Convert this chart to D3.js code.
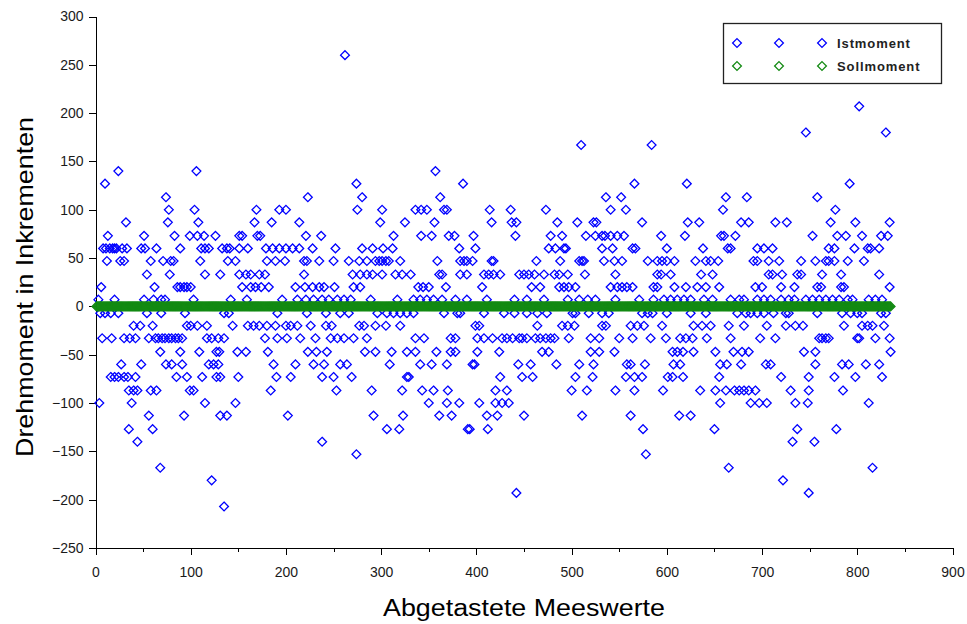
<!DOCTYPE html>
<html>
<head>
<meta charset="utf-8">
<script src="https://cdn.jsdelivr.net/npm/d3@7"></script>
<style>
  body { margin: 0; background: #fff; }
  svg { display: block; font-family: "Liberation Sans", Arial, sans-serif; }
  .axis path, .axis line { stroke: #000; shape-rendering: crispEdges; }
  .axis text { font-size: 14px; fill: #1a1a1a; }
</style>
</head>
<body>
<div class="cont"></div>
<script>

var w = 967,
h = 624;

// Istmoment: quantised torque levels and the sample numbers seen at each level
var istLevels = [260, 207, 180, 167, 140, 127, 113, 100, 87, 73, 60, 47, 33, 20, 7,
  -7, -20, -33, -47, -60, -73, -87, -100, -113, -127, -140, -153, -167, -180, -193, -207];

var istSamples = [
  [262],
  [802],
  [746, 830],
  [510, 584],
  [24, 106, 357],
  [10, 274, 386, 566, 621, 792],
  [74, 223, 280, 362, 536, 552, 662, 684, 758],
  [77, 104, 169, 193, 200, 275, 301, 336, 342, 348, 366, 369, 414, 436, 473, 541, 557, 659, 777],
  [32, 76, 108, 167, 185, 214, 299, 325, 356, 416, 437, 442, 485, 506, 523, 526, 574, 622, 634, 678, 686, 714, 726, 772, 798, 834],
  [13, 51, 83, 99, 107, 114, 126, 151, 154, 170, 173, 221, 237, 313, 342, 353, 371, 377, 397, 441, 478, 490, 515, 525, 532, 535, 541, 548, 555, 594, 619, 657, 660, 672, 753, 779, 788, 805, 825, 832],
  [8, 11, 15, 18, 20, 22, 28, 33, 48, 52, 64, 89, 111, 115, 119, 133, 138, 141, 151, 160, 179, 186, 193, 200, 207, 214, 228, 252, 280, 291, 302, 312, 382, 399, 476, 483, 492, 494, 532, 543, 564, 567, 600, 638, 664, 667, 695, 702, 711, 770, 776, 797, 811, 814, 823],
  [12, 26, 30, 58, 71, 79, 82, 110, 139, 147, 180, 189, 199, 219, 222, 235, 250, 266, 277, 285, 294, 298, 301, 305, 308, 320, 359, 383, 387, 390, 396, 416, 418, 463, 488, 508, 511, 513, 534, 545, 553, 580, 590, 595, 600, 608, 630, 641, 646, 654, 691, 695, 707, 718, 741, 756, 767, 770, 776, 790, 807],
  [54, 78, 115, 131, 151, 158, 163, 172, 178, 219, 270, 278, 285, 291, 301, 315, 322, 331, 361, 364, 383, 390, 408, 413, 418, 425, 445, 450, 455, 461, 471, 482, 487, 496, 514, 546, 590, 594, 604, 636, 648, 707, 711, 721, 737, 741, 763, 783, 823],
  [6, 62, 86, 89, 93, 96, 100, 154, 163, 168, 174, 182, 210, 220, 228, 235, 240, 251, 271, 278, 339, 344, 350, 368, 406, 458, 467, 487, 492, 497, 504, 541, 548, 553, 558, 564, 586, 590, 608, 620, 632, 641, 655, 693, 700, 720, 734, 758, 762, 783, 786, 834],
  [3, 20, 51, 61, 69, 73, 103, 142, 159, 196, 212, 221, 229, 238, 245, 254, 261, 268, 289, 317, 334, 341, 348, 355, 364, 378, 390, 411, 440, 453, 471, 496, 508, 517, 525, 546, 571, 586, 597, 604, 611, 618, 625, 639, 648, 667, 676, 681, 695, 702, 709, 720, 728, 734, 746, 753, 760, 767, 774, 781, 790, 795, 812, 819, 826],
  [5, 10, 16, 24, 54, 69, 94, 135, 140, 191, 222, 242, 257, 266, 296, 306, 313, 320, 327, 334, 366, 380, 383, 408, 429, 440, 453, 464, 474, 501, 504, 518, 532, 539, 574, 580, 585, 600, 625, 641, 674, 683, 688, 695, 702, 712, 725, 728, 758, 784, 793, 800, 805, 825, 830],
  [40, 47, 60, 96, 100, 107, 117, 144, 160, 166, 172, 180, 189, 200, 205, 212, 226, 242, 248, 277, 282, 294, 305, 320, 399, 403, 464, 490, 496, 503, 532, 536, 562, 569, 576, 595, 628, 637, 646, 665, 681, 705, 725, 735, 743, 786, 805, 811, 816, 828],
  [7, 17, 30, 36, 42, 56, 63, 66, 70, 73, 77, 80, 84, 87, 91, 117, 122, 129, 135, 178, 191, 201, 215, 231, 247, 254, 261, 271, 285, 336, 345, 373, 378, 401, 408, 417, 427, 432, 438, 445, 448, 453, 462, 467, 473, 478, 482, 497, 520, 529, 550, 564, 583, 599, 614, 620, 627, 642, 667, 698, 714, 760, 763, 767, 770, 800, 802, 819, 834],
  [68, 89, 109, 127, 130, 149, 158, 181, 223, 232, 243, 283, 294, 311, 327, 336, 358, 373, 378, 401, 424, 469, 476, 520, 529, 545, 606, 611, 617, 628, 651, 670, 679, 686, 744, 756, 835],
  [27, 48, 74, 80, 91, 119, 124, 129, 187, 210, 229, 240, 257, 264, 309, 341, 353, 369, 396, 398, 444, 457, 484, 508, 523, 558, 562, 577, 607, 614, 656, 663, 678, 704, 709, 756, 784, 791, 809, 823],
  [16, 20, 24, 30, 34, 42, 85, 96, 112, 127, 131, 150, 190, 205, 238, 250, 269, 327, 329, 425, 448, 459, 504, 522, 557, 566, 574, 601, 606, 617, 655, 720, 749, 776, 798, 826],
  [35, 40, 44, 58, 64, 99, 103, 184, 253, 290, 322, 343, 355, 370, 420, 432, 500, 516, 546, 566, 596, 635, 651, 662, 671, 676, 681, 686, 693, 730, 749, 785],
  [4, 38, 115, 147, 350, 369, 382, 403, 420, 427, 434, 656, 688, 697, 705, 735, 748, 812],
  [56, 93, 131, 138, 202, 292, 323, 361, 374, 411, 422, 450, 511, 562, 613, 625],
  [35, 60, 306, 319, 391, 393, 412, 575, 650, 737, 778],
  [44, 238, 732, 755],
  [274, 578],
  [68, 665, 816],
  [122, 722],
  [442, 749],
  [135]
];

// Sollmoment: set point, zero for every sample
var sollValue = 0;
var sampleCount = 835;

var xTicks = [0, 100, 200, 300, 400, 500, 600, 700, 800, 900];
var xMinorTicks = [50, 150, 250, 350, 450, 550, 650, 750, 850];
var yTicks = [-250, -200, -150, -100, -50, 0, 50, 100, 150, 200, 250, 300];

var seriesNames = ["Istmoment", "Sollmoment"];
var seriesColors = ["#0000ff", "#138a13"];

var istPoints = [];
istLevels.forEach(function (v, i) {
  istSamples[i].forEach(function (s) { istPoints.push({ x: s, y: v }); });
});
var sollPoints = d3.range(1, sampleCount + 1).map(function (s) { return { x: s, y: sollValue }; });

var xScale = d3.scaleLinear().
domain([0, 900]).
range([95.5, 952.5]);

var yScale = d3.scaleLinear().
domain([-250, 300]).
range([548, 16.5]);

var svg = d3.select(".cont").append("svg").
attr("width", w).
attr("height", h);

svg.append("rect").attr("width", w).attr("height", h).attr("fill", "#fff");

var diamond = "M0,-4.4L4.4,0L0,4.4L-4.4,0Z";

// x axis with minor ticks
svg.append("g").
attr("class", "axis").
attr("transform", "translate(0," + yScale(-250) + ")").
call(d3.axisBottom(xScale).tickValues(xMinorTicks).tickSize(4).tickFormat("")).
select(".domain").remove();

svg.append("g").
attr("class", "axis").
attr("transform", "translate(0," + yScale(-250) + ")").
call(d3.axisBottom(xScale).tickValues(xTicks).tickSizeInner(7).tickSizeOuter(0).tickPadding(12));

svg.append("g").
attr("class", "axis").
attr("transform", "translate(" + xScale(0) + ",0)").
call(d3.axisLeft(yScale).tickValues(yTicks).tickSizeInner(7).tickSizeOuter(0).tickPadding(5));

var plot = svg.append("g");

plot.selectAll("path.ist").
data(istPoints).
enter().append("path").
attr("class", "ist").
attr("d", diamond).
attr("transform", function (d) { return "translate(" + xScale(d.x) + "," + yScale(d.y) + ")"; }).
attr("fill", "none").
attr("stroke", seriesColors[0]).
attr("stroke-width", 1.3);

plot.selectAll("path.soll").
data(sollPoints).
enter().append("path").
attr("class", "soll").
attr("d", diamond).
attr("transform", function (d) { return "translate(" + xScale(d.x) + "," + yScale(d.y) + ")"; }).
attr("fill", "none").
attr("stroke", seriesColors[1]).
attr("stroke-width", 1.3);

// axis titles
svg.append("text").
attr("x", 524).
attr("y", 616).
attr("text-anchor", "middle").
attr("textLength", 282).
attr("lengthAdjust", "spacingAndGlyphs").
style("font-size", "23px").
text("Abgetastete Meeswerte");

svg.append("text").
attr("transform", "translate(33,287) rotate(-90)").
attr("text-anchor", "middle").
attr("textLength", 340).
attr("lengthAdjust", "spacingAndGlyphs").
style("font-size", "24px").
text("Drehmoment in Inkrementen");

// legend
var legend = svg.append("g").attr("id", "legend");

legend.append("rect").
attr("x", 723.5).
attr("y", 23.5).
attr("width", 218).
attr("height", 60).
attr("fill", "#fff").
attr("stroke", "#222").
attr("stroke-width", 1.3);

var rows = legend.selectAll("g.row").
data(seriesNames).
enter().append("g").
attr("class", "row").
attr("transform", function (d, i) { return "translate(0," + (43 + i * 23) + ")"; });

rows.selectAll("path").
data(function (d, i) { return [737, 779, 822].map(function (x) { return { x: x, c: seriesColors[i] }; }); }).
enter().append("path").
attr("d", diamond).
attr("transform", function (d) { return "translate(" + d.x + ",0)"; }).
attr("fill", "none").
attr("stroke", function (d) { return d.c; }).
attr("stroke-width", 1.3);

rows.append("text").
attr("x", 837).
attr("y", 4.5).
style("font-size", "13px").
style("font-weight", "bold").
style("letter-spacing", "0.9px").
style("fill", "#222").
text(function (d) { return d; });

</script>
</body>
</html>
